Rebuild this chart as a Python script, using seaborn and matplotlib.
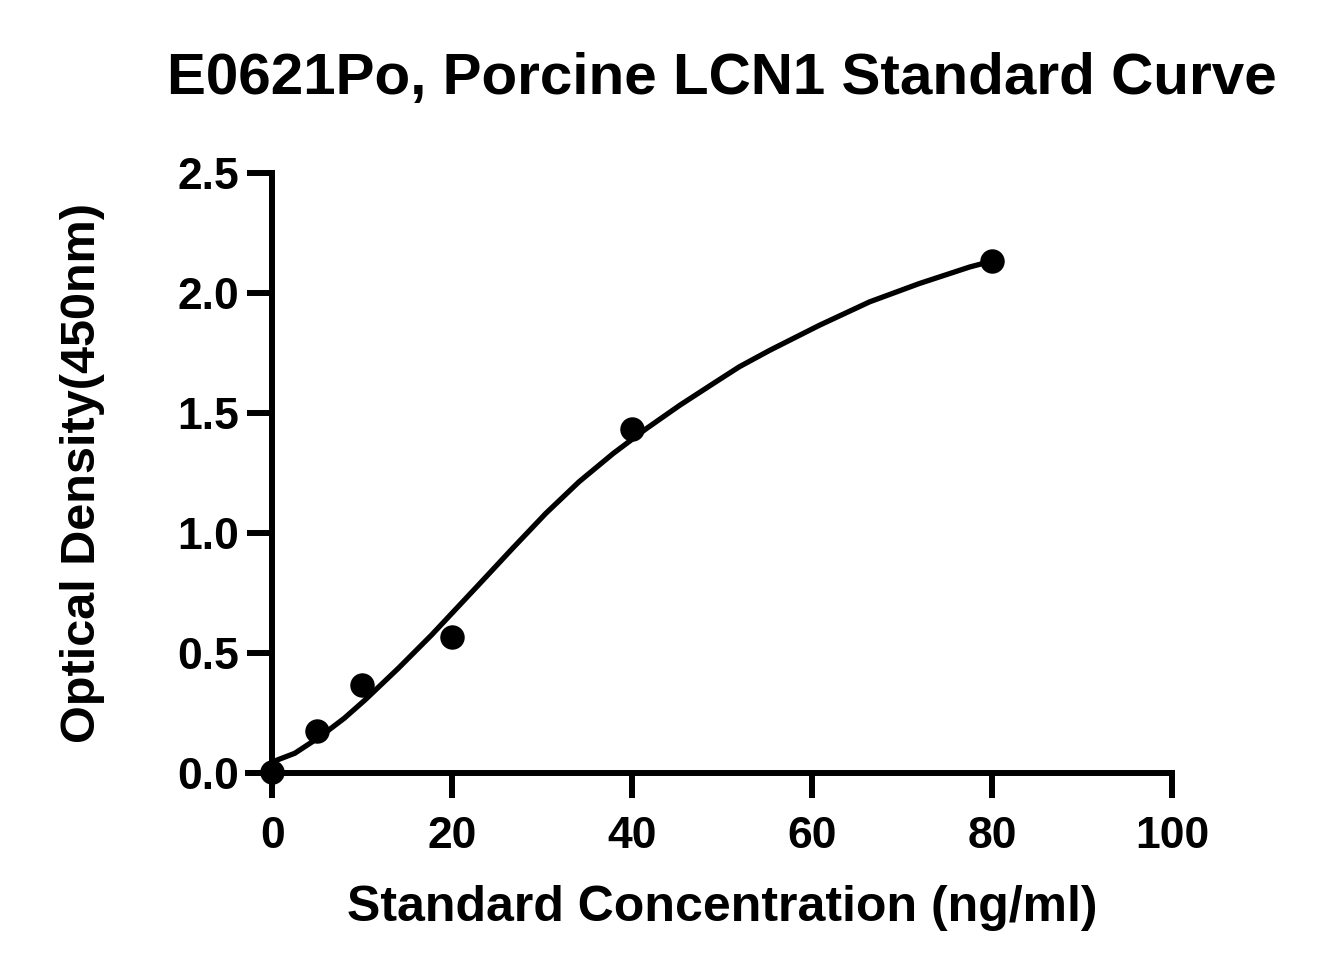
import numpy as np
import matplotlib
matplotlib.use("Agg")
import matplotlib.pyplot as plt
import seaborn as sns

# standard points
conc = [0, 5, 10, 20, 40, 80]
od = [0.005, 0.174, 0.365, 0.567, 1.431, 2.135]

# fitted curve
curve_x = [0, 2.5, 5.3, 8.0, 10.3, 14.0, 17.7, 21.4, 23.0, 26.7, 30.4,
           34.1, 37.9, 41.6, 45.3, 49.0, 51.9, 55.3, 60.8, 66.4, 71.9, 77.5, 80]
curve_y = [0.045, 0.081, 0.150, 0.227, 0.303, 0.435, 0.574, 0.722, 0.786,
           0.935, 1.081, 1.213, 1.331, 1.435, 1.532, 1.622, 1.692, 1.761,
           1.865, 1.963, 2.039, 2.108, 2.133]

x_ticks = [0, 20, 40, 60, 80, 100]
y_ticks = [0.0, 0.5, 1.0, 1.5, 2.0, 2.5]

sns.set_style("ticks")
plt.rcParams['font.family'] = ['Liberation Sans', 'DejaVu Sans']
plt.rcParams['font.weight'] = 'bold'
plt.rcParams['text.color'] = 'black'
plt.rcParams['axes.labelcolor'] = 'black'
plt.rcParams['xtick.color'] = 'black'
plt.rcParams['ytick.color'] = 'black'

fig = plt.figure(figsize=(13.2, 9.75), dpi=100)
ax = fig.add_axes([248 / 1320, 1 - 772.7 / 975, (1172 - 248) / 1320, (772.7 - 173) / 975])

sns.lineplot(x=curve_x, y=curve_y, ax=ax, color='black', linewidth=3.8, sort=False,
             estimator=None)
sns.scatterplot(x=conc, y=od, ax=ax, color='black', s=310, edgecolor='black',
                linewidth=0, zorder=5, clip_on=False)

ax.set_xlim(-2.7, 100)
ax.set_ylim(0, 2.5)
ax.set_xticks(x_ticks)
ax.set_yticks(y_ticks)
ax.set_yticklabels([f"{v:.1f}" for v in y_ticks])

ax.spines['left'].set_position(('data', 0))
ax.spines['top'].set_visible(False)
ax.spines['right'].set_visible(False)
for side in ['left', 'bottom']:
    ax.spines[side].set_linewidth(4.3)
    ax.spines[side].set_color('black')
    ax.spines[side].set_capstyle('projecting')

ax.tick_params(axis='both', which='major', direction='out', length=18, width=4.3,
               color='black', labelsize=32, pad=6, labelcolor='black')
ax.tick_params(axis='x', pad=13)
for lab in ax.get_xticklabels() + ax.get_yticklabels():
    lab.set_fontweight('bold')

ax.set_xlabel('Standard Concentration (ng/ml)', fontsize=36, fontweight='bold')
ax.xaxis.set_label_coords((722 - 248) / 924, -0.187)
ax.set_ylabel('Optical Density(450nm)', fontsize=35, fontweight='bold', labelpad=52)
fig.suptitle('E0621Po, Porcine LCN1 Standard Curve', fontsize=42, fontweight='bold',
             x=722 / 1320, y=1 - 79 / 975, va='center')

fig.savefig('out.png', dpi=100, facecolor='white')
